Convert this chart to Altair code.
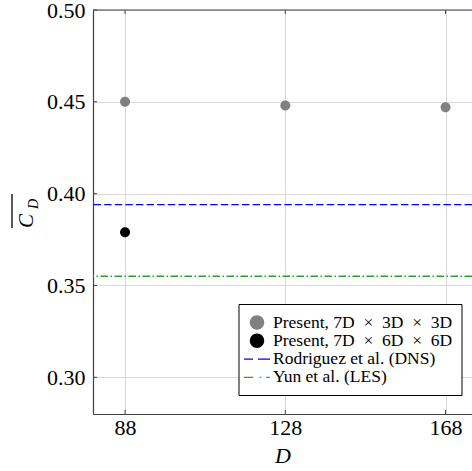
import altair as alt
import pandas as pd

# ---- data ----
gray_D = [88, 128, 168]
gray_cd = [0.450, 0.448, 0.447]
black_D = [88]
black_cd = [0.379]
ref_values = [0.394, 0.355]
series_labels = ["Present, 7D\u2002×\u20023D\u2002×\u20023D", "Present, 7D\u2002×\u20026D\u2002×\u20026D",
                 "Rodriguez et al. (DNS)", "Yun et al. (LES)"]
series_colors = ["#808080", "#000000", "#0000ff", "#2ca02c"]
x_ticks = [88, 128, 168]
y_ticks = [0.30, 0.35, 0.40, 0.45, 0.50]

W, H = 379, 404
FONT = "'Liberation Serif', 'DejaVu Serif', serif"


def rect(a, b, h=0.075):
    return f"M{a},{-h}H{b}V{h}H{a}Z"


CIRCLE = "M0.76,0A0.76,0.76 0 1,1 -0.76,0A0.76,0.76 0 1,1 0.76,0Z"
DASHED = rect(-1.37, -0.42) + rect(0.1, 1.37)
DASHDOT = rect(-1.37, -0.42) + rect(0.28, 0.45) + rect(0.98, 1.34)

pts = pd.DataFrame({
    "D": gray_D + black_D,
    "cd": gray_cd + black_cd,
    "series": [series_labels[0]] * len(gray_D) + [series_labels[1]] * len(black_D),
})
refs = pd.DataFrame({"series": series_labels[2:], "cd": ref_values})
xt = pd.DataFrame({"D": x_ticks})
yt = pd.DataFrame({"cd": y_ticks})
one = pd.DataFrame({"a": [0]})

xscale = alt.Scale(domain=[80, 174.6], nice=False, zero=False)
yscale = alt.Scale(domain=[0.28, 0.50], nice=False, zero=False)

legend = alt.Legend(
    orient="none", legendX=145.5, legendY=294, title=None,
    strokeColor="black", fillColor="white", cornerRadius=0, padding=9,
    labelFont=FONT, labelFontSize=17.5, labelColor="black", labelLimit=400,
    symbolSize=361, labelOffset=6.5, rowPadding=0.3, symbolStrokeWidth=0,
    symbolOpacity=1,
)
color = alt.Color("series:N", scale=alt.Scale(domain=series_labels, range=series_colors), legend=legend)
shape = alt.Shape("series:N", scale=alt.Scale(domain=series_labels,
                                              range=[CIRCLE, CIRCLE, DASHED, DASHDOT]), legend=legend)

xaxis = alt.Axis(values=x_ticks, grid=True, gridColor="#d9d9d9", gridWidth=1,
                 domain=True, domainColor="#404040", domainWidth=1.2, ticks=False,
                 labelFont=FONT, labelFontSize=22, labelColor="black", labelPadding=3,
                 title="D", titleFont=FONT, titleFontStyle="italic", titleFontWeight="normal",
                 titleFontSize=22, titleColor="black", titlePadding=7)
yaxis = alt.Axis(values=y_ticks, format=".2f", grid=True, gridColor="#d9d9d9", gridWidth=1,
                 domain=True, domainColor="#404040", domainWidth=1.2, ticks=False,
                 labelFont=FONT, labelFontSize=22, labelColor="black", labelPadding=8,
                 title=None)

base_pts = alt.Chart(pts).mark_point(filled=True, size=173, opacity=1).encode(
    x=alt.X("D:Q", scale=xscale, axis=xaxis),
    y=alt.Y("cd:Q", scale=yscale, axis=yaxis),
    color=color,
    shape=shape,
)

rod = alt.Chart(refs).transform_filter(alt.datum.series == series_labels[2]).mark_rule(
    strokeDash=[7.4, 3.2], strokeWidth=1.3).encode(
    y=alt.Y("cd:Q", scale=yscale), color=color)
yun = alt.Chart(refs).transform_filter(alt.datum.series == series_labels[3]).mark_rule(
    strokeDash=[7.5, 2.5, 1.5, 2.5], strokeWidth=1.3).encode(
    y=alt.Y("cd:Q", scale=yscale), color=color)

spine_top = alt.Chart(one).mark_rule(color="#404040", strokeWidth=1.2).encode(y=alt.value(0))

tick_color = "#404040"
xt_bot = alt.Chart(xt).mark_rule(color=tick_color).encode(
    x=alt.X("D:Q", scale=xscale), y=alt.value(H), y2=alt.value(H - 4))
xt_top = alt.Chart(xt).mark_rule(color=tick_color).encode(
    x=alt.X("D:Q", scale=xscale), y=alt.value(0), y2=alt.value(4))
yt_left = alt.Chart(yt).mark_rule(color=tick_color).encode(
    y=alt.Y("cd:Q", scale=yscale), x=alt.value(0), x2=alt.value(4))

# y-axis title: overline C_D
t_c = alt.Chart(one).mark_text(text="C", font=FONT, fontStyle="italic", fontSize=21,
                               angle=270, align="center", baseline="middle", color="black").encode(
    x=alt.value(-66), y=alt.value(211))
t_d = alt.Chart(one).mark_text(text="D", font=FONT, fontStyle="italic", fontSize=14,
                               angle=270, align="center", baseline="middle", color="black").encode(
    x=alt.value(-59), y=alt.value(194))
t_bar = alt.Chart(one).mark_rule(color="black", strokeWidth=1.3).encode(
    x=alt.value(-81), y=alt.value(184), y2=alt.value(218))

chart = alt.layer(
    base_pts, rod, yun, spine_top, xt_bot, xt_top, yt_left, t_c, t_d, t_bar
).properties(
    width=W, height=H,
    autosize=alt.AutoSizeParams(type="none"),
    padding={"left": 93, "top": 10, "right": 0, "bottom": 57},
    background="white",
).configure_view(stroke=None)

chart.save("out.html", embed_options={"renderer": "svg", "actions": False})
